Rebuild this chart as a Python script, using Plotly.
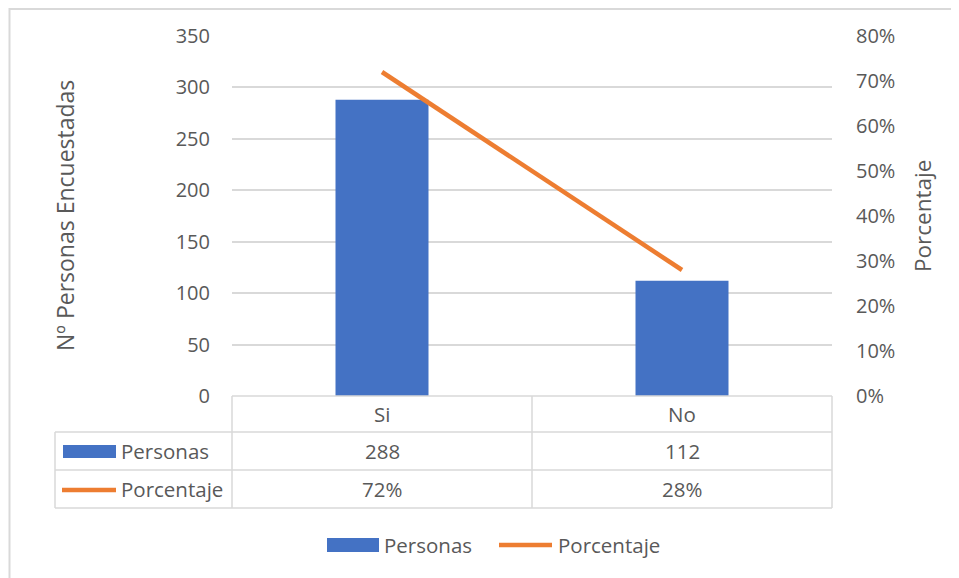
import plotly.graph_objects as go

categories = ["Si", "No"]
personas = [288, 112]
porcentaje = [0.72, 0.28]
y_ticks = [0, 50, 100, 150, 200, 250, 300, 350]
y2_ticks = [0, 0.1, 0.2, 0.3, 0.4, 0.5, 0.6, 0.7, 0.8]
series_names = ["Personas", "Porcentaje"]

BLUE = "#4472C4"
ORANGE = "#ED7D31"
TXT = "#595959"
GRID = "#D9D9D9"
FONT = "Open Sans"

W, H = 959, 578
OFF = 8  # page body margin
# plot area in window coordinates
L, R, T, B = 232, 832, 36, 396


def px(x):
    return (x - L) / (R - L)


def py(y):
    return (B - y) / (B - T)


fig = go.Figure()
fig.add_trace(go.Bar(x=categories, y=personas, name=series_names[0],
                     marker=dict(color=BLUE, line=dict(width=0)), width=0.31,
                     showlegend=False, yaxis="y"))
fig.add_trace(go.Scatter(x=categories, y=porcentaje, name=series_names[1],
                         mode="lines", line=dict(color=ORANGE, width=4.5),
                         showlegend=False, yaxis="y2"))

shapes = []
line_style = dict(color=GRID, width=1.5)
# table horizontal lines
shapes.append(dict(type="line", xref="paper", yref="paper", x0=0, x1=1,
                   y0=py(396), y1=py(396), line=line_style))
for yy in [432, 470, 508]:
    shapes.append(dict(type="line", xref="paper", yref="paper", x0=px(55), x1=1,
                       y0=py(yy), y1=py(yy), line=line_style))
# table vertical lines
shapes.append(dict(type="line", xref="paper", yref="paper", x0=px(55), x1=px(55),
                   y0=py(432), y1=py(508), line=line_style))
for xx in [232, 532, 832]:
    shapes.append(dict(type="line", xref="paper", yref="paper", x0=px(xx), x1=px(xx),
                       y0=py(396), y1=py(508), line=line_style))
# outer chart border
shapes.append(dict(type="rect", xref="paper", yref="paper", x0=px(9.5), x1=px(990),
                   y0=py(9), y1=py(620), line=dict(color=GRID, width=2)))
# table legend keys
shapes.append(dict(type="rect", xref="paper", yref="paper", x0=px(63), x1=px(116),
                   y0=py(445), y1=py(458), fillcolor=BLUE, line=dict(width=0)))
shapes.append(dict(type="line", xref="paper", yref="paper", x0=px(62), x1=px(116),
                   y0=py(490), y1=py(490), line=dict(color=ORANGE, width=4.5)))
# bottom legend keys
shapes.append(dict(type="rect", xref="paper", yref="paper", x0=px(327), x1=px(379),
                   y0=py(538), y1=py(552), fillcolor=BLUE, line=dict(width=0)))
shapes.append(dict(type="line", xref="paper", yref="paper", x0=px(499), x1=px(552),
                   y0=py(545), y1=py(545), line=dict(color=ORANGE, width=4.5)))

f = dict(family=FONT, size=20.5, color=TXT)
ann = []


def add(x, y, text, xref="paper", xanchor="center", font=f, **kw):
    ann.append(dict(x=x, xref=xref, y=y, yref="paper", text=text, showarrow=False,
                    xanchor=xanchor, yanchor="middle", font=font, **kw))


# table header + values
for i, c in enumerate(categories):
    add(c, py(414), c, xref="x")
    add(c, py(451), str(personas[i]), xref="x")
    add(c, py(489), f"{round(porcentaje[i] * 100)}%", xref="x")
# table row labels
add(px(119), py(451), series_names[0], xanchor="left")
add(px(119), py(489), series_names[1], xanchor="left")
# bottom legend labels
add(px(382), py(545), series_names[0], xanchor="left")
add(px(556), py(545), series_names[1], xanchor="left")
# axis titles
add(px(65), 0.5, "Nº Personas Encuestadas", font=dict(family=FONT, size=23, color=TXT),
    textangle=-90)
add(px(922), 0.5, "Porcentaje", font=dict(family=FONT, size=22.5, color=TXT),
    textangle=-90)

tick_font = dict(family=FONT, size=20, color=TXT)
fig.update_layout(
    width=W, height=H,
    margin=dict(l=L - OFF, r=W - (R - OFF), t=T - OFF, b=H - (B - OFF)),
    paper_bgcolor="white", plot_bgcolor="white",
    font=dict(family=FONT, color=TXT),
    showlegend=False,
    xaxis=dict(type="category", range=[-0.5, 1.5], showticklabels=False,
               showgrid=False, zeroline=False, showline=False, fixedrange=True),
    yaxis=dict(range=[0, 350], tickvals=y_ticks, showgrid=True, gridcolor=GRID,
               gridwidth=1.5, zeroline=False, showline=False,
               tickfont=tick_font, ticklabelstandoff=21),
    yaxis2=dict(range=[0, 0.8], tickvals=y2_ticks, tickformat=".0%", overlaying="y",
                side="right", showgrid=False, zeroline=False, showline=False,
                tickfont=tick_font, ticklabelstandoff=23),
    shapes=shapes,
    annotations=ann,
)

fig.write_html("out.html")
